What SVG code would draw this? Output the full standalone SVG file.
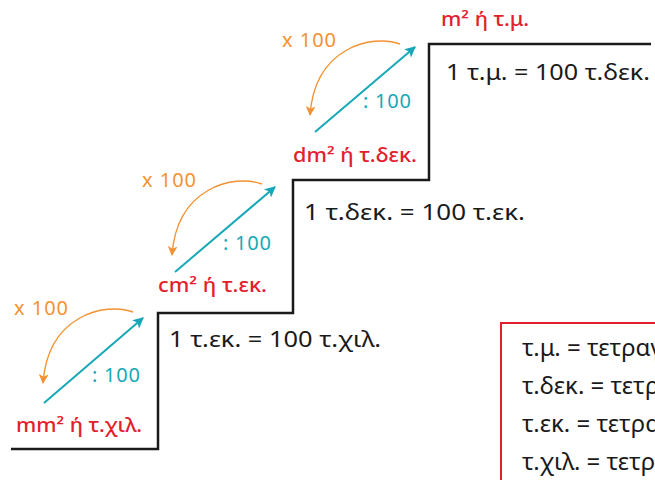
<svg xmlns="http://www.w3.org/2000/svg" width="655" height="480" viewBox="0 0 655 480">
<defs>
<style>
.blk{font-family:"Noto Sans","Open Sans",sans-serif;font-size:22.5px;fill:#1a1a1a}
.leg{font-family:"Noto Sans","Open Sans",sans-serif;font-size:24px;fill:#1a1a1a}
.red{font-family:"Noto Sans","Open Sans",sans-serif;font-size:19px;font-weight:500;fill:#e31e2d}
.org{font-family:"Noto Sans","Open Sans",sans-serif;font-size:20px;fill:#f39232}
.teal{font-family:"Noto Sans","Open Sans",sans-serif;font-size:20px;fill:#16a8b8}
.tl{stroke:#16a8b8;stroke-width:2;fill:none;marker-end:url(#mt)}
.ol{stroke:#f39232;stroke-width:1.4;fill:none;marker-end:url(#mo)}
</style>
<marker id="mt" viewBox="0 0 10 10" refX="9" refY="5" markerWidth="5.5" markerHeight="5.5" orient="auto" markerUnits="strokeWidth"><path d="M0,0 L10,5 L0,10 L2.5,5 Z" fill="#16a8b8"/></marker>
<marker id="mo" viewBox="0 0 10 10" refX="9" refY="5" markerWidth="7" markerHeight="7" orient="auto" markerUnits="strokeWidth"><path d="M0,0 L10,5 L0,10 L2.5,5 Z" fill="#f39232"/></marker>
</defs>
<g id="stairs">
<path d="M11,449 H158 V313 H293 V180 H429 V44 H651" fill="none" stroke="#1a1a1a" stroke-width="2.5"/>
</g>
<g id="connectors">
<path class="tl" d="M44,403 L143,318"/>
<path class="tl" d="M175,272 L275,187"/>
<path class="tl" d="M315,132 L415,47"/>
<path class="ol" d="M133,312 C105,302 48,315 43,383"/>
<path class="ol" d="M262,184 C234,174 177,187 172,255"/>
<path class="ol" d="M400,44 C372,34 315,47 310,115"/>
</g>
<g id="step-mm">
<text class="red" x="16" y="432" textLength="126" lengthAdjust="spacingAndGlyphs">mm² ή τ.χιλ.</text>
<text class="org" x="14" y="315" textLength="54">x 100</text>
<text class="teal" x="92" y="382" textLength="48">: 100</text>
</g>
<g id="step-cm">
<text class="red" x="158" y="292" textLength="109" lengthAdjust="spacingAndGlyphs">cm² ή τ.εκ.</text>
<text class="org" x="142" y="187" textLength="54">x 100</text>
<text class="teal" x="223" y="250" textLength="48">: 100</text>
<text class="blk" x="169" y="347" textLength="212" lengthAdjust="spacingAndGlyphs">1 τ.εκ. = 100 τ.χιλ.</text>
</g>
<g id="step-dm">
<text class="red" x="293" y="162" textLength="124" lengthAdjust="spacingAndGlyphs">dm² ή τ.δεκ.</text>
<text class="org" x="282" y="47" textLength="54">x 100</text>
<text class="teal" x="363" y="108" textLength="48">: 100</text>
<text class="blk" x="304" y="220" textLength="221" lengthAdjust="spacingAndGlyphs">1 τ.δεκ. = 100 τ.εκ.</text>
</g>
<g id="step-m">
<text class="red" x="441" y="26" textLength="88" lengthAdjust="spacingAndGlyphs">m² ή τ.μ.</text>
<text class="blk" x="446" y="80" textLength="204" lengthAdjust="spacingAndGlyphs">1 τ.μ. = 100 τ.δεκ.</text>
</g>
<g id="legend">
<rect x="501" y="323" width="220" height="200" fill="none" stroke="#e31e2d" stroke-width="2"/>
<text class="leg" x="522" y="356">τ.μ. = τετραγωνικό μέτρο</text>
<text class="leg" x="522" y="394">τ.δεκ. = τετραγωνικό δεκατόμετρο</text>
<text class="leg" x="522" y="432">τ.εκ. = τετραγωνικό εκατοστόμετρο</text>
<text class="leg" x="522" y="470">τ.χιλ. = τετραγωνικό χιλιοστόμετρο</text>
</g>
</svg>
